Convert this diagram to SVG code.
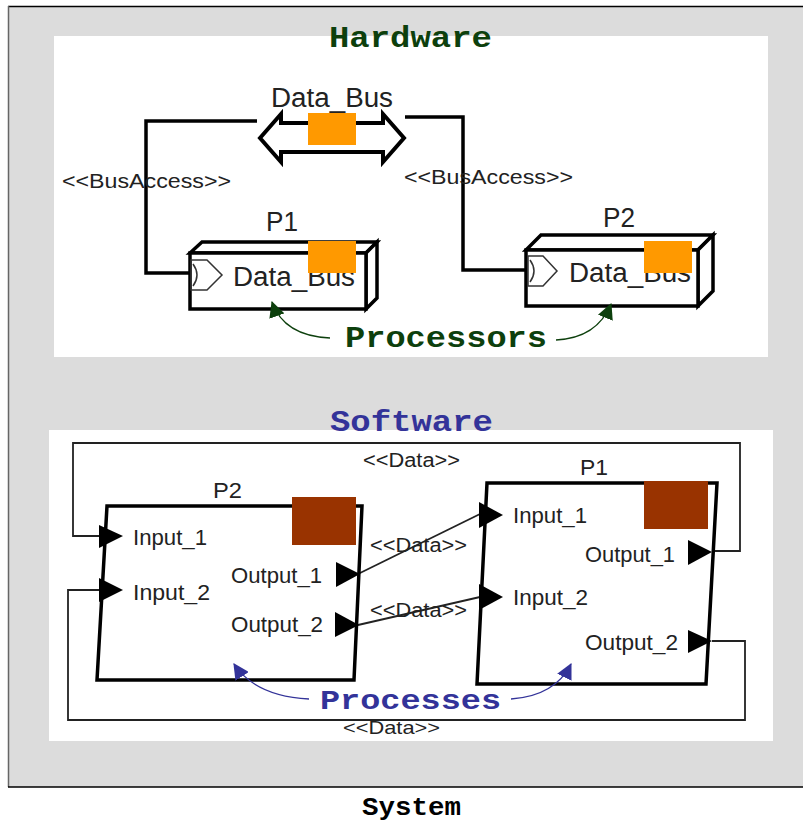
<svg xmlns="http://www.w3.org/2000/svg" width="803" height="823" viewBox="0 0 803 823">
<style>
.lbl{font-family:"Liberation Sans",Arial,sans-serif;fill:#222}
.big{font-size:27px}
.port{font-size:22px}
.st{font-size:20px}
.title{font-family:"Liberation Mono","Courier New",monospace;font-weight:bold}
.box{fill:#fff;stroke:#000;stroke-width:3.5;stroke-linejoin:miter}
.conn{fill:none;stroke:#000;stroke-width:3.5}
.thin{fill:none;stroke:#222;stroke-width:1.8}
.tri{fill:#000}
.chev{fill:none;stroke:#333;stroke-width:1.5}
</style>
<defs>
<marker id="ag" viewBox="0 0 14 14" refX="13" refY="7" markerWidth="16" markerHeight="16" markerUnits="userSpaceOnUse" orient="auto"><path d="M0,0 L14,7 L0,14 Z" fill="#0d400d"/></marker>
<marker id="ab" viewBox="0 0 14 14" refX="13" refY="7" markerWidth="16" markerHeight="16" markerUnits="userSpaceOnUse" orient="auto"><path d="M0,0 L14,7 L0,14 Z" fill="#333399"/></marker>
</defs>
<g id="frame">
<rect x="8" y="6" width="800" height="781" fill="#dcdcdc"/>
<line x1="8" y1="6.5" x2="803" y2="6.5" stroke="#000" stroke-width="1.5"/>
<line x1="8.5" y1="6" x2="8.5" y2="787" stroke="#666" stroke-width="1.5"/>
<line x1="8" y1="787" x2="803" y2="787" stroke="#000" stroke-width="1.5"/>
<rect x="54" y="36" width="714" height="321" fill="#fff"/>
<rect x="49" y="430" width="724" height="311" fill="#fff"/>
</g>
<g id="connectors">
<polyline class="conn" points="257,121 146,121 146,273 191,273"/>
<polyline class="conn" points="405,117 463,117 463,270 527,270"/>
<text class="lbl st" x="62" y="188" textLength="169" lengthAdjust="spacingAndGlyphs" font-size="19">&lt;&lt;BusAccess&gt;&gt;</text>
<text class="lbl st" x="404" y="184" textLength="169" lengthAdjust="spacingAndGlyphs" font-size="19">&lt;&lt;BusAccess&gt;&gt;</text>
<polyline class="thin" points="712,551 740,551 740,443 73,443 73,536 100,536"/>
<polyline class="thin" points="712,641 745,641 745,720 68,720 68,590 100,590"/>
<line class="thin" x1="358" y1="574" x2="480" y2="514"/>
<line class="thin" x1="358" y1="625" x2="480" y2="597"/>
<text class="lbl st" x="363" y="467" textLength="97" lengthAdjust="spacingAndGlyphs">&lt;&lt;Data&gt;&gt;</text>
<text class="lbl st" x="370" y="552" textLength="97" lengthAdjust="spacingAndGlyphs">&lt;&lt;Data&gt;&gt;</text>
<text class="lbl st" x="370" y="617" textLength="97" lengthAdjust="spacingAndGlyphs">&lt;&lt;Data&gt;&gt;</text>
<text class="lbl" x="343" y="734" font-size="19" textLength="97" lengthAdjust="spacingAndGlyphs">&lt;&lt;Data&gt;&gt;</text>
</g>
<g id="Data_Bus">
<text class="lbl big" x="271" y="107" textLength="122" lengthAdjust="spacingAndGlyphs">Data_Bus</text>
<polygon points="260,138 281,114 281,123 383,123 383,114 404,138 383,162 383,152 281,152 281,162" fill="#fff" stroke="#000" stroke-width="4" stroke-linejoin="miter"/>
<rect x="308" y="113" width="48" height="32" fill="#ff9900"/>
</g>
<g id="HW_P1">
<text class="lbl big" x="266" y="231" textLength="32" lengthAdjust="spacingAndGlyphs">P1</text>
<polygon class="box" points="190,253 202,242 377,242 366,253"/>
<polygon class="box" points="366,253 377,242 377,298 366,309"/>
<rect class="box" x="190" y="253" width="176" height="56"/>
<polygon class="chev" points="191,260 207,260 222,275 207,290 191,290"/>
<path class="chev" d="M193,264 Q201,275 193,286"/>
<text class="lbl big" x="233" y="286" textLength="122" lengthAdjust="spacingAndGlyphs">Data_Bus</text>
<rect x="308" y="241" width="48" height="32" fill="#ff9900"/>
</g>
<g id="HW_P2">
<text class="lbl big" x="603" y="227" textLength="32" lengthAdjust="spacingAndGlyphs">P2</text>
<polygon class="box" points="526,250 541,235 713,235 698,250"/>
<polygon class="box" points="698,250 713,235 713,291 698,306"/>
<rect class="box" x="526" y="250" width="172" height="56"/>
<polygon class="chev" points="528,256 543,256 557,271 543,286 528,286"/>
<path class="chev" d="M530,260 Q538,271 530,282"/>
<text class="lbl big" x="569" y="282" textLength="122" lengthAdjust="spacingAndGlyphs">Data_Bus</text>
<rect x="644" y="241" width="48" height="32" fill="#ff9900"/>
</g>
<g id="Processors">
<path d="M330,338 Q284,336 272,302" fill="none" stroke="#0d400d" stroke-width="1.3" marker-end="url(#ag)"/>
<path d="M556,340 Q597,338 611,304" fill="none" stroke="#0d400d" stroke-width="1.3" marker-end="url(#ag)"/>
<text class="title" x="345" y="347" font-size="30" fill="#0d400d" textLength="202" lengthAdjust="spacingAndGlyphs">Processors</text>
</g>
<g id="SW_P2">
<text class="lbl port" x="213" y="498" textLength="29" lengthAdjust="spacingAndGlyphs">P2</text>
<polygon class="box" points="107,506 362,506 354,680 97,680"/>
<rect x="292" y="497" width="64" height="48" fill="#993300"/>
<polygon class="tri" points="99,525 123,536 99,548"/>
<polygon class="tri" points="99,578 123,590 99,602"/>
<polygon class="tri" points="336,562 360,574 336,587"/>
<polygon class="tri" points="335,612 359,625 335,637"/>
<text class="lbl port" x="133" y="545" textLength="74" lengthAdjust="spacingAndGlyphs">Input_1</text>
<text class="lbl port" x="133" y="600" textLength="77" lengthAdjust="spacingAndGlyphs">Input_2</text>
<text class="lbl port" x="231" y="583" textLength="91" lengthAdjust="spacingAndGlyphs">Output_1</text>
<text class="lbl port" x="231" y="632" textLength="92" lengthAdjust="spacingAndGlyphs">Output_2</text>
</g>
<g id="SW_P1">
<text class="lbl port" x="580" y="475" textLength="28" lengthAdjust="spacingAndGlyphs">P1</text>
<polygon class="box" points="487,483 717,483 706,684 477,684"/>
<rect x="644" y="481" width="64" height="48" fill="#993300"/>
<polygon class="tri" points="479,502 503,515 479,528"/>
<polygon class="tri" points="479,584 503,597 479,610"/>
<polygon class="tri" points="688,540 712,552 688,565"/>
<polygon class="tri" points="688,630 712,641 688,653"/>
<text class="lbl port" x="513" y="523" textLength="74" lengthAdjust="spacingAndGlyphs">Input_1</text>
<text class="lbl port" x="513" y="605" textLength="75" lengthAdjust="spacingAndGlyphs">Input_2</text>
<text class="lbl port" x="585" y="562" textLength="90" lengthAdjust="spacingAndGlyphs">Output_1</text>
<text class="lbl port" x="585" y="650" textLength="93" lengthAdjust="spacingAndGlyphs">Output_2</text>
</g>
<g id="Processes">
<path d="M309,699 Q255,696 234,664" fill="none" stroke="#333399" stroke-width="1.3" marker-end="url(#ab)"/>
<path d="M511,699 Q555,696 571,664" fill="none" stroke="#333399" stroke-width="1.3" marker-end="url(#ab)"/>
<text class="title" x="320" y="709" font-size="28" fill="#333399" textLength="181" lengthAdjust="spacingAndGlyphs">Processes</text>
</g>
<g id="titles">
<text class="title" x="329" y="47" font-size="30" fill="#0d400d" textLength="163" lengthAdjust="spacingAndGlyphs">Hardware</text>
<text class="title" x="330" y="431" font-size="30" fill="#333399" textLength="163" lengthAdjust="spacingAndGlyphs">Software</text>
<text class="title" x="362" y="815" font-size="25" fill="#000" textLength="99" lengthAdjust="spacingAndGlyphs">System</text>
</g>
</svg>
